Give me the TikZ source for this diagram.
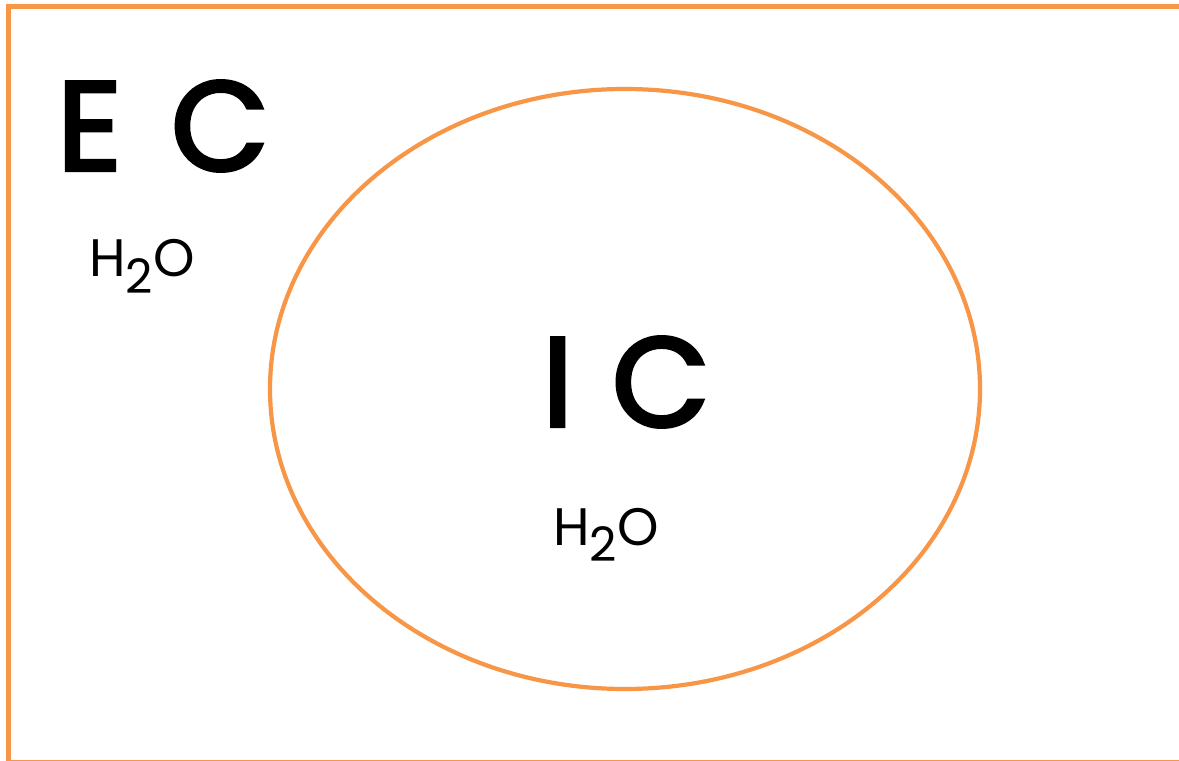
\documentclass[tikz,border=0pt]{standalone}
\usepackage{fontspec}
\setmainfont{Poppins}
\newfontfamily\handfont[FakeBold=3]{Poppins}
\definecolor{borange}{HTML}{F79646}
\newcommand{\subtwo}{\raisebox{-0.32em}{\fontsize{13.5}{13.5}\selectfont 2}}
\begin{document}
\begin{tikzpicture}[x=0.01cm,y=-0.01cm,
  frame/.style={draw=borange,line width=1.4pt},
  cell/.style={draw=borange,line width=1.2pt},
  big/.style={font=\fontsize{36}{36}\selectfont\handfont,inner sep=0pt},
  small/.style={font=\fontsize{15}{15}\selectfont,inner sep=0pt,anchor=base}]
\useasboundingbox (0,0) rectangle (1179,761);
\draw[frame] (8.5,6.5) rectangle (1200,762);
\draw[cell] (625,389) ellipse [x radius=355, y radius=300];
\node[big] (ec) at (163,126) {E\hspace{14pt}C};
\node[small] (h2oa) at (142,277) {H\subtwo O};
\node[big] (ic) at (626,382) {I\hspace{11pt}C};
\node[small] (h2ob) at (606,545) {H\subtwo O};
\end{tikzpicture}
\end{document}
